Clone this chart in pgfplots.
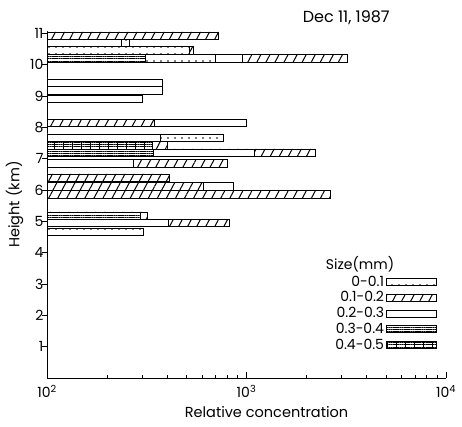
\documentclass[border=0pt]{standalone}
\usepackage{pgfplots}
\pgfplotsset{compat=1.18}
\usepackage{fontspec}
\setmainfont{Poppins}
\usetikzlibrary{patterns.meta}

\tikzset{
 dotp/.style={fill=white, postaction={pattern={Dots[distance=7pt, radius=0.85pt, yshift=1pt]}}},
 hatp/.style={fill=white, postaction={pattern={Lines[angle=62, distance=8pt, line width=1pt]}}},
 whp/.style={fill=white},
 linp/.style={fill=white, postaction={pattern={Lines[angle=0, distance=2.2pt, line width=0.4pt]}}},
 grdp/.style={fill=white, postaction={pattern={Lines[angle=0, distance=2.2pt, line width=0.4pt]}}, postaction={pattern={Lines[angle=90, distance=9pt, line width=0.5pt]}}},
}
\pgfplotsset{hb/.style={xbar, bar width=0.24, bar shift=0pt, draw=black, line width=0.6pt, forget plot}}

\begin{document}
\begin{tikzpicture}
\begin{axis}[
  scale only axis, width=399pt, height=347pt,
  xmode=log, log origin x=infty,
  xmin=100, xmax=10000, ymin=0, ymax=11.07,
  clip=false,
  axis x line*=bottom, axis y line*=left,
  xtick={100,1000,10000},
  xticklabels={10\textsuperscript{2},10\textsuperscript{3},10\textsuperscript{4}},
  minor xtick={200,300,400,500,600,700,800,900,2000,3000,4000,5000,6000,7000,8000,9000},
  ytick={1,2,3,4,5,6,7,8,9,10,11},
  tick align=inside,
  major tick length=6pt, minor tick length=3.5pt,
  y tick style={xshift=-5pt},
  tick style={black, line width=0.6pt},
  axis line style={line width=0.7pt},
  /pgf/number format/assume math mode=true,
  ticklabel style={font=\fontsize{14}{16}\selectfont},
  xticklabel style={yshift=-4pt},
  label style={font=\fontsize{14.5}{16}\selectfont},
  xlabel={Relative concentration},
  ylabel={Height (km)},
  xlabel style={xshift=20pt, yshift=-2pt},
  legend image code/.code={\draw[#1, line width=0.6pt] (0pt,-3.5pt) rectangle (50pt,3.5pt);},
  legend plot pos=right,
  legend style={draw=none, fill=none, at={(0.977,0.072)}, anchor=south east,
    legend cell align=right, font=\fontsize{14}{16}\selectfont, row sep=0pt, inner sep=0pt},
]
% layer 1 (longest segment of each row)
\addplot[hb, hatp] coordinates {(725,10.92) (539,10.46) (3200,10.20) (403,7.43) (2210,7.19) (805,6.85) (410,6.39) (2640,5.86) (320,5.18) (822,4.95)};
\addplot[hb, dotp] coordinates {(260,10.69) (767,7.67) (303,4.66)};
\addplot[hb, whp] coordinates {(995,8.14) (855,6.12) (379,9.42) (377,9.17) (301,8.90)};
% layer 2
\addplot[hb, whp] coordinates {(235,10.69) (955,10.20) (370,7.67) (1096,7.19) (272,6.85) (407,4.95)};
\addplot[hb, dotp] coordinates {(519,10.46)};
\addplot[hb, hatp] coordinates {(347,8.14) (605,6.12)};
\addplot[hb, grdp] coordinates {(336,7.43)};
\addplot[hb, linp] coordinates {(292,5.18)};
% layer 3
\addplot[hb, dotp] coordinates {(700,10.20)};
\addplot[hb, linp] coordinates {(343,7.19)};
% layer 4
\addplot[hb, linp] coordinates {(312,10.20)};

\addlegendimage{dotp}\addlegendentry{0-0.1}
\addlegendimage{hatp}\addlegendentry{0.1-0.2}
\addlegendimage{whp}\addlegendentry{0.2-0.3}
\addlegendimage{linp}\addlegendentry{0.3-0.4}
\addlegendimage{grdp}\addlegendentry{0.4-0.5}

\node[anchor=west, font=\fontsize{14}{16}\selectfont] at (rel axis cs:0.69,0.329) {Size(mm)};
\node[font=\fontsize{16}{18}\selectfont, yshift=13pt] at (rel axis cs:0.75,1) {Dec 11, 1987};
\end{axis}
\pgfresetboundingbox
\path ([xshift=-47pt,yshift=-48pt]current axis.south west) rectangle ([xshift=16pt,yshift=31pt]current axis.north east);
\end{tikzpicture}
\end{document}
